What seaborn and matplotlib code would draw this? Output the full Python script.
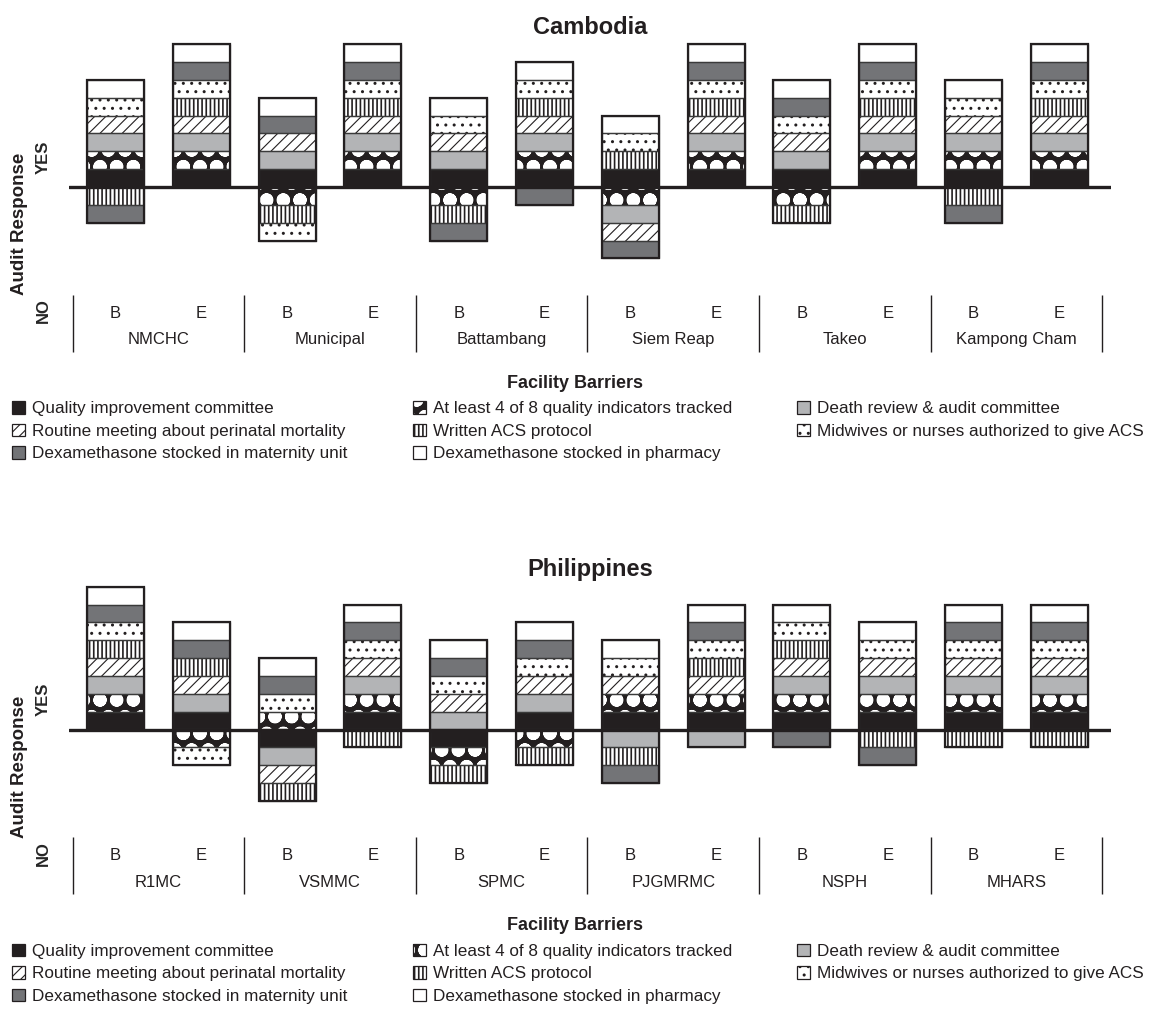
import numpy as np
import matplotlib
matplotlib.use('Agg')
import matplotlib.pyplot as plt
from matplotlib.patches import Patch
import seaborn as sns

# facility barriers, in stacking order (from the zero line outwards)
indicators = ['Quality improvement committee',
              'At least 4 of 8 quality indicators tracked',
              'Death review & audit committee',
              'Routine meeting about perinatal mortality',
              'Written ACS protocol',
              'Midwives or nurses authorized to give ACS',
              'Dexamethasone stocked in maternity unit',
              'Dexamethasone stocked in pharmacy']
periods = ['B', 'E']

# Cambodia: 1 = YES, 0 = NO  (bars: site B, site E, ...)
cam_sites = ['NMCHC', 'Municipal', 'Battambang', 'Siem Reap', 'Takeo', 'Kampong Cham']
cam_qi_committee = [1, 1, 1, 1, 1, 1, 1, 1, 1, 1, 1, 1]
cam_indicators   = [1, 1, 0, 1, 0, 1, 0, 1, 0, 1, 1, 1]
cam_death_review = [1, 1, 1, 1, 1, 1, 0, 1, 1, 1, 1, 1]
cam_meeting      = [1, 1, 1, 1, 1, 1, 0, 1, 1, 1, 1, 1]
cam_acs_protocol = [0, 1, 0, 1, 0, 1, 1, 1, 0, 1, 0, 1]
cam_midwives     = [1, 1, 0, 1, 1, 1, 1, 1, 1, 1, 1, 1]
cam_dex_maternity = [0, 1, 1, 1, 0, 0, 0, 1, 1, 1, 0, 1]
cam_dex_pharmacy = [1, 1, 1, 1, 1, 1, 1, 1, 1, 1, 1, 1]

# Philippines
phl_sites = ['R1MC', 'VSMMC', 'SPMC', 'PJGMRMC', 'NSPH', 'MHARS']
phl_qi_committee = [1, 1, 0, 1, 0, 1, 1, 1, 1, 1, 1, 1]
phl_indicators   = [1, 0, 1, 1, 0, 0, 1, 1, 1, 1, 1, 1]
phl_death_review = [1, 1, 0, 1, 1, 1, 0, 0, 1, 1, 1, 1]
phl_meeting      = [1, 1, 0, 1, 1, 1, 1, 1, 1, 1, 1, 1]
phl_acs_protocol = [1, 1, 0, 0, 0, 0, 0, 1, 1, 0, 0, 0]
phl_midwives     = [1, 0, 1, 1, 1, 1, 1, 1, 1, 1, 1, 1]
phl_dex_maternity = [1, 1, 1, 1, 1, 1, 0, 1, 0, 0, 1, 1]
phl_dex_pharmacy = [1, 1, 1, 1, 1, 1, 1, 1, 1, 1, 1, 1]

ink = '#231f20'
# face colour, hatch colour, hatch, hatch linewidth
styles = [(ink, ink, None, 1.0),
          (ink, 'white', 'o', 4.85),
          ('#b3b4b6', '#b3b4b6', None, 1.0),
          ('white', ink, '///', 0.8),
          ('white', ink, '||||', 1.2),
          ('white', ink, '..', 1.0),
          ('#737477', '#737477', None, 1.0),
          ('white', 'white', None, 1.0)]

sns.set_style('white')
plt.rcParams['font.family'] = ['Liberation Sans', 'DejaVu Sans']
plt.rcParams['text.color'] = ink

W, H = 1150, 1035
fig = plt.figure(figsize=(W / 100, H / 100), dpi=100)

unit = 17.85      # px per answer
x_step = 85.8     # px per bar
x0 = 115.5
xlim = (-0.54, 11.6)
ylim = (-9.7, 8.2)
bar_w = 0.665


def fx(x):
    return x / W


def fy(y):
    return 1 - y / H


def set_hlw(patches, lw):
    for p in patches:
        if hasattr(p, 'set_hatch_linewidth'):
            p.set_hatch_linewidth(lw)


def draw_panel(baseline, title, sites, answers):
    left = x0 + xlim[0] * x_step
    width = (xlim[1] - xlim[0]) * x_step
    top = baseline - ylim[1] * unit
    height = (ylim[1] - ylim[0]) * unit
    ax = fig.add_axes([fx(left), fy(top + height), width / W, height / H])

    answers = np.array(answers)
    bars = [f'{s} {p}' for s in sites for p in periods]
    n = len(bars)
    yes_before = np.vstack([np.zeros(n), np.cumsum(answers, axis=0)[:-1]])
    no_before = np.vstack([np.zeros(n), np.cumsum(1 - answers, axis=0)[:-1]])

    for k, (face, hcol, hatch, hlw) in enumerate(styles):
        bottom = np.where(answers[k] == 1, yes_before[k], -no_before[k] - 1)
        n0 = len(ax.patches)
        with plt.rc_context({'hatch.linewidth': hlw}):
            sns.barplot(x=bars, y=np.ones(n), order=bars, bottom=bottom,
                        width=bar_w, color=face, saturation=1, edgecolor=hcol,
                        hatch=hatch, linewidth=0, errorbar=None, ax=ax, zorder=2)
        set_hlw(ax.patches[n0:], hlw)
        sns.barplot(x=bars, y=np.ones(n), order=bars, bottom=bottom,
                    width=bar_w, color='#3a3a3a', fill=False, linewidth=0.9,
                    errorbar=None, ax=ax, zorder=3)

    # outer outline of every bar
    n_no = (1 - answers).sum(axis=0)
    sns.barplot(x=bars, y=np.full(n, len(styles)), order=bars, bottom=-n_no,
                width=bar_w, color=ink, fill=False, linewidth=1.6,
                errorbar=None, ax=ax, zorder=4)

    ax.axhline(0, color=ink, lw=2.4, zorder=5)
    ax.vlines(np.arange(-0.5, n, 2), -9.24, -6.05, color=ink, lw=1.0)
    for i, b in enumerate(bars):
        ax.text(i, -7.06, b.split()[-1], ha='center', va='center', fontsize=12)
    for g, s in enumerate(sites):
        ax.text(2 * g + 0.5, -8.55, s, ha='center', va='center', fontsize=12)

    ax.set_xlim(*xlim)
    ax.set_ylim(*ylim)
    ax.set_xticks([])
    ax.set_xlabel('')
    ax.set_yticks([1.68, -6.95], ['YES', 'NO'], rotation=90, va='center',
                  fontsize=12, fontweight='bold')
    ax.tick_params(axis='y', length=0, pad=13)
    ax.set_ylabel('')
    for sp in ax.spines.values():
        sp.set_visible(False)

    fig.text(fx(20), fy(baseline + 37), 'Audit Response', rotation=90,
             ha='center', va='center', fontsize=13.5, fontweight='bold')
    fig.text(fx(590), fy(baseline - 160), title, ha='center', va='center',
             fontsize=17, fontweight='bold')

    # legend: title + three columns filled row by row
    leg_top = baseline + 196
    fig.text(fx(575), fy(leg_top), 'Facility Barriers', ha='center',
             va='center', fontsize=13, fontweight='bold')
    handles = []
    for face, hcol, hatch, hlw in styles:
        fill = Patch(facecolor=face, edgecolor=hcol, hatch=hatch, linewidth=0)
        edge = Patch(facecolor='none', edgecolor=ink, linewidth=0.9)
        set_hlw([fill], hlw)
        handles.append((fill, edge))
    columns = [[0, 3, 6], [1, 4, 7], [2, 5]]
    col_x = [12, 413, 797]
    for cx, idx in zip(col_x, columns):
        leg = fig.legend([handles[i] for i in idx], [indicators[i] for i in idx],
                         loc='upper left', bbox_to_anchor=(fx(cx), fy(leg_top + 18)),
                         frameon=False, fontsize=12.3, borderpad=0, borderaxespad=0,
                         handlelength=0.75, handleheight=0.75, handletextpad=0.4,
                         labelspacing=0.43)
        for h, i in zip(leg.legend_handles, idx):
            set_hlw([h], styles[i][3])
    return ax


draw_panel(187, 'Cambodia', cam_sites,
           [cam_qi_committee, cam_indicators, cam_death_review, cam_meeting,
            cam_acs_protocol, cam_midwives, cam_dex_maternity, cam_dex_pharmacy])
draw_panel(729.5, 'Philippines', phl_sites,
           [phl_qi_committee, phl_indicators, phl_death_review, phl_meeting,
            phl_acs_protocol, phl_midwives, phl_dex_maternity, phl_dex_pharmacy])

fig.savefig('out.png', dpi=100)
